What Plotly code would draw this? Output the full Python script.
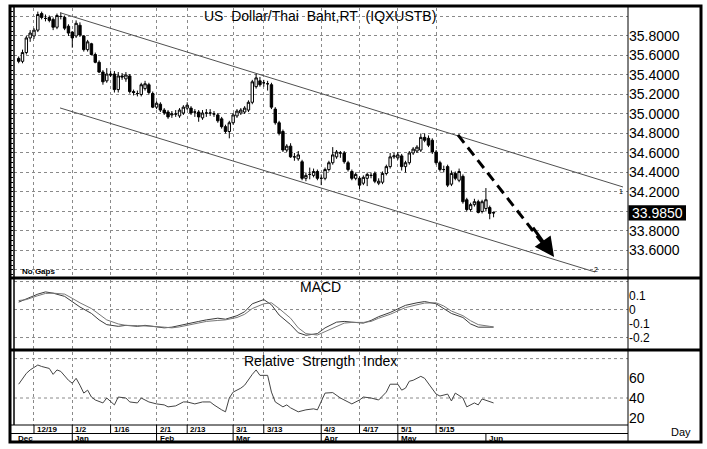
import plotly.graph_objects as go
import pandas as pd

W, H = 707, 449

# ---------------- data ----------------
dates = [d.strftime("%Y-%m-%d") for d in pd.bdate_range("2016-12-13", periods=125)]

opens = [35.57,35.54,35.63,35.78,35.80,35.86,36.03,35.98,35.99,35.97,
         35.89,36.00,35.99,35.90,35.84,35.80,35.91,35.80,35.66,35.72,
         35.61,35.53,35.43,35.34,35.41,35.41,35.25,35.39,35.36,35.39,
         35.23,35.21,35.20,35.26,35.30,35.21,35.07,35.10,35.04,35.02,
         34.99,35.00,34.98,35.01,35.06,35.06,35.02,35.02,34.96,35.01,
         35.01,35.00,34.99,34.95,34.87,34.82,34.91,34.98,35.01,35.02,
         35.04,35.12,35.28,35.34,35.32,35.31,35.30,35.05,34.91,34.82,
         34.63,34.67,34.56,34.54,34.51,34.34,34.38,34.37,34.41,34.34,
         34.34,34.43,34.50,34.56,34.60,34.60,34.50,34.41,34.34,34.34,
         34.29,34.34,34.37,34.39,34.29,34.30,34.39,34.46,34.56,34.55,
         34.57,34.46,34.50,34.60,34.62,34.63,34.76,34.75,34.73,34.61,
         34.50,34.43,34.46,34.28,34.39,34.32,34.36,34.12,34.02,34.07,
         34.10,34.00,34.03,34.04,33.99]
highs = [35.59,35.66,35.80,35.86,35.88,36.05,36.05,36.02,36.01,35.99,
         36.03,36.04,36.01,35.92,35.85,35.96,35.94,35.81,35.76,35.73,
         35.63,35.55,35.45,35.47,35.44,35.44,35.43,35.42,35.43,35.41,
         35.25,35.24,35.32,35.34,35.32,35.23,35.13,35.12,35.06,35.04,
         35.03,35.04,35.06,35.09,35.12,35.08,35.05,35.04,35.04,35.05,
         35.05,35.03,35.01,34.97,34.89,34.93,35.01,35.05,35.06,35.08,
         35.14,35.35,35.41,35.38,35.35,35.34,35.32,35.07,34.93,34.84,
         34.69,34.70,34.60,34.62,34.53,34.40,34.45,34.44,34.43,34.38,
         34.45,34.52,34.66,34.63,34.62,34.62,34.52,34.43,34.40,34.36,
         34.37,34.40,34.40,34.41,34.34,34.41,34.48,34.60,34.60,34.61,
         34.59,34.52,34.62,34.66,34.68,34.80,34.80,34.78,34.75,34.63,
         34.52,34.47,34.48,34.42,34.41,34.44,34.38,34.14,34.09,34.13,
         34.12,34.12,34.24,34.06,34.00]
lows = [35.52,35.52,35.61,35.74,35.77,35.84,35.97,35.95,35.94,35.86,
        35.87,35.97,35.86,35.80,35.68,35.78,35.79,35.64,35.64,35.60,
        35.52,35.42,35.30,35.32,35.38,35.22,35.22,35.35,35.33,35.21,
        35.19,35.18,35.18,35.24,35.20,35.06,35.05,35.02,34.99,34.95,
        34.96,34.97,34.96,34.99,35.04,34.99,34.97,34.92,34.94,34.97,
        34.98,34.97,34.91,34.85,34.80,34.75,34.89,34.96,34.99,35.00,
        35.02,35.10,35.26,35.28,35.28,35.24,35.05,34.89,34.78,34.61,
        34.61,34.55,34.52,34.52,34.32,34.31,34.33,34.35,34.32,34.27,
        34.32,34.41,34.48,34.54,34.55,34.49,34.41,34.32,34.32,34.23,
        34.27,34.26,34.34,34.29,34.27,34.28,34.37,34.44,34.54,34.53,
        34.42,34.40,34.48,34.58,34.60,34.61,34.71,34.66,34.59,34.48,
        34.41,34.40,34.25,34.26,34.32,34.30,34.08,34.00,34.00,34.05,
        33.98,33.98,34.00,33.92,33.94]
closes = [35.54,35.63,35.78,35.83,35.86,36.02,35.99,35.98,35.96,35.89,
          36.01,36.00,35.88,35.83,35.78,35.93,35.81,35.66,35.74,35.61,
          35.53,35.43,35.33,35.41,35.40,35.25,35.39,35.38,35.40,35.23,
          35.22,35.21,35.30,35.31,35.22,35.07,35.11,35.04,35.01,34.97,
          35.00,35.00,35.04,35.07,35.09,35.01,35.02,34.97,35.01,35.01,
          35.01,35.00,34.93,34.87,34.82,34.91,34.99,35.03,35.04,35.06,
          35.12,35.33,35.37,35.30,35.32,35.31,35.07,34.91,34.80,34.63,
          34.67,34.56,34.56,34.58,34.34,34.37,34.38,34.41,34.34,34.34,
          34.43,34.50,34.58,34.61,34.60,34.51,34.43,34.34,34.38,34.27,
          34.35,34.38,34.37,34.31,34.31,34.39,34.46,34.56,34.57,34.58,
          34.46,34.50,34.60,34.64,34.66,34.76,34.73,34.68,34.61,34.50,
          34.43,34.43,34.27,34.39,34.34,34.41,34.10,34.02,34.07,34.10,
          33.99,34.10,34.12,33.98,33.985]

macd_idx = [0,2,5,7,9,12,14,16,19,21,23,26,28,31,33,35,38,40,42,45,47,49,52,54,57,
            59,61,64,66,68,71,73,75,78,80,83,85,87,90,92,94,97,99,101,104,106,109,
            111,113,116,118,120,123,124]
macd_line = [0.053,0.076,0.110,0.126,0.117,0.094,0.053,0.018,-0.028,-0.074,-0.108,
             -0.120,-0.113,-0.120,-0.113,-0.122,-0.131,-0.126,-0.113,-0.097,-0.085,
             -0.074,-0.062,-0.069,-0.044,-0.016,0.041,0.071,0.034,-0.039,-0.108,
             -0.166,-0.184,-0.172,-0.131,-0.090,-0.085,-0.090,-0.097,-0.078,-0.051,
             -0.021,0.007,0.030,0.048,0.057,0.041,0.007,-0.028,-0.057,-0.103,
             -0.126,-0.126,-0.126]
signal_line = [0.064,0.071,0.099,0.115,0.117,0.110,0.080,0.048,0.007,-0.034,-0.074,
               -0.103,-0.113,-0.115,-0.115,-0.120,-0.126,-0.131,-0.124,-0.108,-0.097,
               -0.085,-0.078,-0.074,-0.057,-0.034,0.007,0.041,0.048,0.007,-0.062,
               -0.131,-0.172,-0.182,-0.158,-0.120,-0.097,-0.092,-0.092,-0.085,-0.062,
               -0.034,-0.009,0.014,0.034,0.046,0.048,0.025,-0.011,-0.044,-0.080,
               -0.108,-0.120,-0.124]

rsi_idx = [0,2,3,5,6,8,9,10,11,13,14,15,16,17,18,19,20,22,23,25,26,28,29,31,32,34,36,
           38,39,41,43,44,46,48,50,51,53,54,55,56,58,59,61,62,63,65,66,67,69,70,71,73,
           75,77,78,79,80,82,84,86,87,89,90,92,94,96,97,99,100,101,102,103,105,106,
           107,109,110,112,113,114,116,117,119,120,121,123,124]
rsi_val = [54,65,68.5,73.5,72,70,64,68.5,67,58,55,60,53,45,48,41,38,35,40,33,41,40,36,
           35,40,36,34,33,31,32,36,36,34,36,36,33,28,26,40,46,50,53,64,68.5,63,63,46,
           36,31,33,30,26,28,29,28,36,45,45.5,40,36,34,38,41,40,38,46,54,54,48,50,57,
           58,62,60,55,44,42,44,37,45,40,31,35,33,39,36,35]

tick_dates = ["2016-12-19","2017-01-02","2017-01-16","2017-02-01","2017-02-13",
              "2017-03-01","2017-03-13","2017-04-03","2017-04-17","2017-05-01","2017-05-15"]
tick_labels = ["12/19","1/2","1/16","2/1","2/13","3/1","3/13","4/3","4/17","5/1","5/15"]
month_dates = ["2017-01-02","2017-02-01","2017-03-01","2017-04-03","2017-05-01","2017-06-01"]
month_labels = ["Jan","Feb","Mar","Apr","May","Jun"]

price_ticks = [33.4,33.6,33.8,34.0,34.2,34.4,34.6,34.8,35.0,35.2,35.4,35.6,35.8,36.0]
price_ticktext = ["","33.6000","33.8000","","34.2000","34.4000","34.6000","34.8000",
                  "35.0000","35.2000","35.4000","35.6000","35.8000",""]
last_price = 33.985

# ---------------- helpers ----------------
def px(x):
    return x / W

def py(y):
    return 1 - y / H

XL, XR = 14, 628
XRANGE = [-1.22, 159.1]
YRANGE = [33.338, 36.087]
FONT = "Liberation Sans, Arial, sans-serif"
GRID = "#8a8a8a"

fig = go.Figure()
fig.add_trace(go.Candlestick(
    x=dates, open=opens, high=highs, low=lows, close=closes,
    increasing=dict(line=dict(color="black", width=1), fillcolor="white"),
    decreasing=dict(line=dict(color="black", width=1), fillcolor="black"),
    whiskerwidth=0, xaxis="x", yaxis="y", showlegend=False, hoverinfo="skip"))

mx = [dates[i] for i in macd_idx]
fig.add_trace(go.Scatter(x=mx, y=macd_line, mode="lines",
                         line=dict(color="#3c3c3c", width=1), xaxis="x2", yaxis="y2",
                         showlegend=False, hoverinfo="skip"))
fig.add_trace(go.Scatter(x=mx, y=signal_line, mode="lines",
                         line=dict(color="#777777", width=1), xaxis="x2", yaxis="y2",
                         showlegend=False, hoverinfo="skip"))
fig.add_trace(go.Scatter(x=[dates[i] for i in rsi_idx], y=rsi_val, mode="lines",
                         line=dict(color="#444444", width=1), xaxis="x3", yaxis="y3",
                         showlegend=False, hoverinfo="skip"))

xcommon = dict(type="category", categoryorder="array", categoryarray=dates,
               range=XRANGE, tickvals=tick_dates, showticklabels=False, ticks="",
               showgrid=True, gridcolor=GRID, griddash="dot", gridwidth=1,
               zeroline=False, showline=False, fixedrange=True,
               domain=[px(XL), px(XR)])

fig.update_layout(
    width=W, height=H, margin=dict(l=0, r=0, t=0, b=0),
    paper_bgcolor="white", plot_bgcolor="white",
    font=dict(family=FONT, color="black"),
    boxgap=0.1,
    xaxis=dict(anchor="y", rangeslider=dict(visible=False), **xcommon),
    xaxis2=dict(anchor="y2", **xcommon),
    xaxis3=dict(anchor="y3", **xcommon),
    yaxis=dict(domain=[py(276), py(8)], anchor="x", side="right",
               range=YRANGE, tickvals=price_ticks, ticktext=price_ticktext,
               showgrid=True, gridcolor=GRID, griddash="dot", ticks="",
               tickfont=dict(size=14, family=FONT), zeroline=False, fixedrange=True),
    yaxis4=dict(overlaying="y", anchor="x", side="left", range=YRANGE, dtick=0.05,
                tick0=33.4, ticks="outside", ticklen=3, tickwidth=1, tickcolor="black",
                showticklabels=False, showgrid=False, zeroline=False, fixedrange=True),
    yaxis2=dict(domain=[py(349), py(280)], anchor="x2", side="right",
                range=[-0.282, 0.211], tickvals=[-0.2, -0.1, 0, 0.1],
                ticktext=["-0.2", "-0.1", "0", "0.1"], showgrid=False, ticks="",
                tickfont=dict(size=12, family=FONT), zeroline=False, fixedrange=True),
    yaxis3=dict(domain=[py(425), py(352)], anchor="x3", side="right",
                range=[12.6, 86.7], tickvals=[20, 40, 60],
                ticktext=["20", "40", "60"], showgrid=False, ticks="",
                tickfont=dict(size=14, family=FONT), zeroline=False, fixedrange=True),
)
# invisible helper trace so the left tick strip axis is drawn
fig.add_trace(go.Scatter(x=[dates[0]], y=[closes[0]], mode="markers",
                         marker=dict(opacity=0), xaxis="x", yaxis="y4",
                         showlegend=False, hoverinfo="skip"))

shapes = []
# indicator grid lines
for v in [0.2, 0, -0.2]:
    shapes.append(dict(type="line", xref="x2", yref="y2", x0=XRANGE[0], x1=XRANGE[1],
                       y0=v, y1=v, line=dict(color=GRID, width=1, dash="dot"), layer="below"))
for v in [80, 40]:
    shapes.append(dict(type="line", xref="x3", yref="y3", x0=XRANGE[0], x1=XRANGE[1],
                       y0=v, y1=v, line=dict(color=GRID, width=1, dash="dot"), layer="below"))

# channel lines
shapes.append(dict(type="line", xref="x", yref="y", x0=10.8, y0=36.039, x1=157.8, y1=34.251,
                   line=dict(color="#505050", width=1)))
shapes.append(dict(type="line", xref="x", yref="y", x0=10.8, y0=35.062, x1=150.5, y1=33.379,
                   line=dict(color="#505050", width=1)))
# dashed projection
shapes.append(dict(type="line", xref="x", yref="y", x0=114.7, y0=34.785, x1=138.3, y1=33.60,
                   line=dict(color="black", width=3, dash="10px,6px")))

# frames
K = "black"
shapes.append(dict(type="rect", xref="paper", yref="paper", x0=px(10), x1=px(701),
                   y0=py(442), y1=py(6), line=dict(color=K, width=3)))
for yy in [278, 350]:
    shapes.append(dict(type="line", xref="paper", yref="paper", x0=px(10), x1=px(701),
                       y0=py(yy), y1=py(yy), line=dict(color=K, width=3)))
shapes.append(dict(type="line", xref="paper", yref="paper", x0=px(XR), x1=px(XR),
                   y0=py(6), y1=py(442), line=dict(color=K, width=1)))
shapes.append(dict(type="line", xref="paper", yref="paper", x0=px(XL), x1=px(XL),
                   y0=py(6), y1=py(425), line=dict(color=K, width=1.5)))
shapes.append(dict(type="line", xref="paper", yref="paper", x0=px(10), x1=px(XR),
                   y0=py(425), y1=py(425), line=dict(color=K, width=1)))
shapes.append(dict(type="line", xref="paper", yref="paper", x0=px(10), x1=px(XR),
                   y0=py(433.5), y1=py(433.5), line=dict(color=K, width=1)))

# date ticks
for d in tick_dates:
    i = dates.index(d)
    shapes.append(dict(type="line", xref="x3", yref="paper", x0=i, x1=i,
                       y0=py(433), y1=py(425), line=dict(color=K, width=1)))
for d in month_dates:
    i = dates.index(d)
    shapes.append(dict(type="line", xref="x3", yref="paper", x0=i, x1=i,
                       y0=py(441), y1=py(434), line=dict(color=K, width=1)))

# last price box
shapes.append(dict(type="rect", xref="paper", yref="y", x0=px(628.5), x1=px(686),
                   y0=last_price - 0.078, y1=last_price + 0.078,
                   fillcolor="black", line=dict(width=0)))

annotations = []
NB = "\u00a0"

def note(x, y, text, size, xanchor="center", xref="paper", yref="paper", color="black",
         xshift=0):
    annotations.append(dict(xref=xref, yref=yref, x=x, y=y, text=text, showarrow=False,
                            xanchor=xanchor, yanchor="middle", xshift=xshift,
                            font=dict(size=size, family=FONT, color=color)))

note(px(320), py(16), f"US{NB}{NB}Dollar/Thai{NB}{NB}Baht,RT{NB}{NB}(IQXUSTB)", 14)
note(px(320), py(287), "MACD", 14)
note(px(320), py(361), f"Relative{NB}{NB}Strength{NB}{NB}Index", 14)
note(px(20), py(271), f"<b>No{NB}Gaps</b>", 8, xanchor="left")
note(px(681), py(432), "Day", 11)
note(px(630), last_price, "33.9850", 14, xanchor="left", yref="y", color="white")
note(157.2, 34.20, "1", 7, xref="x", yref="y")
note(150.8, 33.40, "2", 7, xref="x", yref="y")
# arrow head
annotations.append(dict(xref="x", yref="y", axref="x", ayref="y", x=139.8, y=33.533,
                        ax=134.0, ay=33.85, showarrow=True, arrowhead=2, arrowsize=1.3,
                        arrowwidth=3, arrowcolor="black", text=""))
for d, lab in zip(tick_dates, tick_labels):
    note(dates.index(d), py(429.5), f"<b>{lab}</b>", 8, xanchor="left", xref="x3", xshift=1)
note(px(16), py(438), "<b>Dec</b>", 8, xanchor="left")
for d, lab in zip(month_dates, month_labels):
    note(dates.index(d), py(438), f"<b>{lab}</b>", 8, xanchor="left", xref="x3", xshift=1)

fig.update_layout(shapes=shapes, annotations=annotations)
fig.write_html("out.html")
